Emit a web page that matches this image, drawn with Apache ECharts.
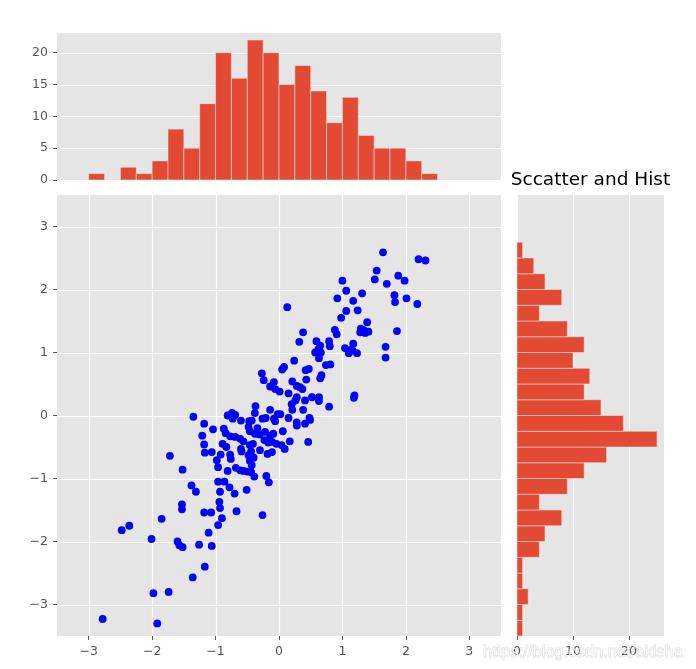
<!DOCTYPE html>
<html><head><meta charset="utf-8">
<script src="https://cdn.jsdelivr.net/npm/echarts@6/dist/echarts.min.js"></script>
<style>html,body{margin:0;padding:0;background:#fff}#c{width:696px;height:669px}</style>
</head><body><div id="c"></div>
<script>
// ---- data ----
const binEdges = [-3.5,-3.25,-3,-2.75,-2.5,-2.25,-2,-1.75,-1.5,-1.25,-1,-0.75,-0.5,-0.25,0,0.25,0.5,0.75,1,1.25,1.5,1.75,2,2.25,2.5,2.75,3,3.25,3.5];
const histXCounts = [0,0,1,0,2,1,3,8,5,12,20,16,22,20,15,18,14,9,13,7,5,5,3,1,0,0,0,0];
const histYCounts = [1,1,2,1,1,4,5,8,4,9,12,16,25,19,15,12,13,10,12,9,4,8,5,3,1,0,0,0];
const scatterX = [
 -2.78,-2.48,-2.36,-2.01,-1.98,-1.92,-1.85,-1.74,-1.72,-1.52,-1.53,-1.53,-1.60,-1.57,-1.52,-1.35,-1.38,-1.31,-1.36,-1.26,
 -1.18,-1.04,-1.21,-1.18,-1.17,-1.06,-1.18,-1.07,-1.11,-1.06,-1.17,
 -0.81,-0.87,-0.84,-0.77,-0.89,-0.92,-0.98,-0.96,-0.77,-0.76,-0.81,-0.96,-0.86,-0.93,-0.94,-0.93,-0.90,-0.96,-0.78,-0.83,
 -0.74,-0.69,-0.73,-0.60,-0.69,-0.61,-0.56,-0.60,-0.59,-0.70,-0.67,-0.51,-0.68,-0.61,-0.56,-0.50,
 -0.47,-0.43,-0.48,-0.46,-0.34,-0.31,-0.38,-0.46,-0.41,-0.44,-0.30,-0.48,-0.40,-0.46,-0.43,-0.44,-0.39,-0.26,-0.37,-0.38,-0.27,-0.26,
 -0.24,-0.14,-0.08,-0.06,-0.14,-0.08,-0.21,-0.06,-0.22,-0.14,-0.09,-0.23,-0.17,-0.11,-0.04,-0.18,-0.11,-0.20,-0.16,-0.02,
 0.01,0.02,0.15,0.20,0.21,0.15,0.06,0.04,0.09,0.17,0.13,0.05,0.08,0.21,0.24,
 0.38,0.32,0.42,0.47,0.43,0.28,0.33,0.37,0.28,0.26,0.41,0.38,0.28,0.48,0.28,0.41,0.46,0.49,
 0.59,0.65,0.62,0.57,0.66,0.63,0.65,0.67,0.52,0.63,0.63,0.74,
 0.79,0.80,0.81,0.79,0.92,0.98,0.88,0.91,
 1.00,1.06,1.17,1.06,1.24,1.04,1.17,1.10,1.23,1.16,1.18,1.19,1.13,
 1.31,1.39,1.29,1.28,1.41,1.36,1.33,
 1.64,1.54,1.51,1.70,1.68,1.68,
 1.88,1.98,1.82,1.83,1.86,
 2.20,2.31,2.01,2.18];
const scatterY = [
 -3.23,-1.82,-1.75,-1.96,-2.82,-3.30,-1.64,-2.80,-0.64,-0.86,-1.41,-1.49,-2.00,-2.06,-2.09,-0.02,-1.11,-1.21,-2.57,-2.05,
 -0.13,-0.22,-0.32,-0.46,-0.59,-0.58,-1.54,-1.54,-1.86,-2.07,-2.40,
 0.00,-0.21,-0.28,-0.33,-0.45,-0.62,-0.71,-0.82,-0.62,-0.69,-0.88,-1.05,-1.05,-1.21,-1.37,-1.47,-1.63,-1.74,-1.14,-0.50,
 0.04,0.01,-0.05,-0.08,-0.34,-0.37,-0.41,-0.53,-0.57,-1.24,-1.52,-1.18,-0.83,-0.87,-0.88,-0.89,
 -0.09,-0.08,-0.18,-0.25,-0.20,-0.30,-0.29,-0.47,-0.45,-0.57,-0.55,-0.63,-0.67,-0.72,-0.79,-0.90,-0.97,-1.58,0.15,0.04,0.67,-0.05,
 0.56,0.46,0.53,0.42,0.09,-0.05,-0.04,-0.09,-0.26,-0.32,-0.29,-0.39,-0.43,-0.42,-0.45,-0.61,-0.58,-0.96,-1.06,0.02,
 0.38,0.02,0.35,0.18,0.09,-0.04,-0.25,-0.47,-0.53,-0.41,1.72,0.73,0.77,0.54,0.87,
 1.32,1.17,0.72,0.74,0.57,0.47,0.45,0.42,0.29,0.24,0.24,0.09,-0.11,-0.04,-0.16,-0.13,-0.42,-0.07,
 1.18,1.11,1.05,1.00,1.00,0.91,0.59,0.64,0.29,0.29,0.23,0.80,
 1.18,1.10,0.81,0.14,1.86,1.55,1.36,1.29,
 2.14,1.98,1.82,1.66,1.67,1.07,1.14,0.99,0.99,1.03,0.28,0.32,1.04,
 1.94,1.48,1.38,1.32,1.33,1.31,1.36,
 2.59,2.30,2.16,2.09,1.09,0.92,
 2.22,2.14,1.91,1.80,1.34,
 2.48,2.46,1.86,1.77];
const mainTicks = [-3,-2,-1,0,1,2,3];
const histXTicks = [0,5,10,15,20];
const histYTicks = [0,10,20];
const titleText = 'Sccatter and Hist';
const watermarkText = 'https://blog.csdn.net/akisha';

// ---- chart ----
const BG = '#E5E5E5', BAR = '#E24A33', TICK = '#555555';
const fmt = v => String(v).replace('-', '\u2212');
const labelStyle = {color: TICK, fontFamily: 'DejaVu Sans', fontSize: 12.5, formatter: fmt};
const tickStyle = {show: true, length: 4, lineStyle: {color: TICK, width: 1}};
const noLine = {show: false, onZero: false};

const topHistData = histXCounts.map((c, i) => [binEdges[i], binEdges[i + 1], c]).filter(d => d[2] > 0);
const sideHistData = histYCounts.map((c, i) => [c, binEdges[i], binEdges[i + 1]]).filter(d => d[0] > 0);
const scatterData = scatterX.map((x, i) => [x, scatterY[i]]);

const barStyle = {fill: BAR, stroke: '#EEEEEE', lineWidth: 0.5};

function tickAxis(gridIndex, min, max, values, position) {
  return {gridIndex, z: 6, type: 'value', min, max, position, axisLine: noLine,
    axisTick: Object.assign({customValues: values}, tickStyle),
    axisLabel: Object.assign({customValues: values, margin: 9}, labelStyle),
    splitLine: {show: false}};
}
function hiddenAxis(gridIndex, min, max, position) {
  return {gridIndex, z: 6, type: 'value', min, max, position, axisLine: noLine, axisTick: {show: false},
    axisLabel: {show: false}, splitLine: {show: false}};
}
const gridBox = (left, top, width, height) => ({left, top, width, height, show: false});

// plot-area background, drawn as a series so that its order is controlled by z
function backgroundSeries(xi, yi, anchor) {
  return {type: 'custom', z: 1, silent: true, clip: false, xAxisIndex: xi, yAxisIndex: yi,
    data: [anchor], encode: {x: 0, y: 1},
    renderItem: (params) => {
      const cs = params.coordSys;
      return {type: 'rect', shape: {x: cs.x, y: cs.y, width: cs.width, height: cs.height}, style: {fill: BG}};
    }};
}
// white grid lines drawn through the axes' own scales
function gridLineSeries(xi, yi, values, vertical) {
  return {type: 'custom', z: 2, silent: true, clip: false, xAxisIndex: xi, yAxisIndex: yi,
    data: values.map(v => vertical ? [v, 0] : [0, v]), encode: {x: 0, y: 1},
    renderItem: (params, api) => {
      const cs = params.coordSys;
      const p = api.coord([api.value(0), api.value(1)]);
      const shape = vertical
        ? {x1: Math.round(p[0]) + 0.5, y1: cs.y, x2: Math.round(p[0]) + 0.5, y2: cs.y + cs.height}
        : {x1: cs.x, y1: Math.round(p[1]) + 0.5, x2: cs.x + cs.width, y2: Math.round(p[1]) + 0.5};
      return {type: 'line', shape, style: {stroke: '#ffffff', lineWidth: 1.2, fill: null}};
    }};
}

const chart = echarts.init(document.getElementById('c'), null, {renderer: 'canvas'});
chart.setOption({
  animation: false,
  backgroundColor: '#ffffff',
  grid: [gridBox(57, 33, 444, 147), gridBox(57, 195, 444, 441), gridBox(517, 195, 147, 441)],
  xAxis: [
    hiddenAxis(0, -3.5, 3.5, 'bottom'),
    tickAxis(1, -3.5, 3.5, mainTicks, 'bottom'),
    tickAxis(2, 0, 26.25, histYTicks, 'bottom')
  ],
  yAxis: [
    tickAxis(0, 0, 23.1, histXTicks, 'left'),
    tickAxis(1, -3.5, 3.5, mainTicks, 'left'),
    hiddenAxis(2, -3.5, 3.5, 'left')
  ],
  graphic: [
    {type: 'text', x: 590.5, y: 180.5, z: 100,
     style: {text: titleText, font: '18.5px "DejaVu Sans"', fill: '#000000', align: 'center', verticalAlign: 'middle'}},
    {type: 'text', x: 483, y: 652, z: 100,
     style: {text: watermarkText, font: '16.5px "Liberation Sans"', fill: 'rgba(255,255,255,0.75)',
             stroke: 'rgba(150,150,150,0.35)', lineWidth: 1, verticalAlign: 'middle'}}
  ],
  series: [
    backgroundSeries(0, 0, [0, 1]),
    backgroundSeries(1, 1, [0, 0]),
    backgroundSeries(2, 2, [1, 0]),
    gridLineSeries(0, 0, histXTicks, false),
    gridLineSeries(1, 1, mainTicks, true),
    gridLineSeries(1, 1, mainTicks, false),
    gridLineSeries(2, 2, histYTicks, true),
    {type: 'custom', z: 4, xAxisIndex: 0, yAxisIndex: 0, data: topHistData, encode: {x: [0, 1], y: 2},
     renderItem: (params, api) => {
       const p0 = api.coord([api.value(0), 0]);
       const p1 = api.coord([api.value(1), api.value(2)]);
       return {type: 'rect', shape: {x: p0[0], y: p1[1], width: p1[0] - p0[0], height: p0[1] - p1[1]}, style: barStyle};
     }},
    {type: 'scatter', z: 5, xAxisIndex: 1, yAxisIndex: 1, data: scatterData, symbol: 'circle', symbolSize: 7.8,
     itemStyle: {color: '#0000ff', opacity: 1}},
    {type: 'custom', z: 4, xAxisIndex: 2, yAxisIndex: 2, data: sideHistData, encode: {x: 0, y: [1, 2]},
     renderItem: (params, api) => {
       const p0 = api.coord([0, api.value(1)]);
       const p1 = api.coord([api.value(0), api.value(2)]);
       return {type: 'rect', shape: {x: p0[0], y: p1[1], width: p1[0] - p0[0], height: p0[1] - p1[1]}, style: barStyle};
     }}
  ]
});
</script>
</body></html>
